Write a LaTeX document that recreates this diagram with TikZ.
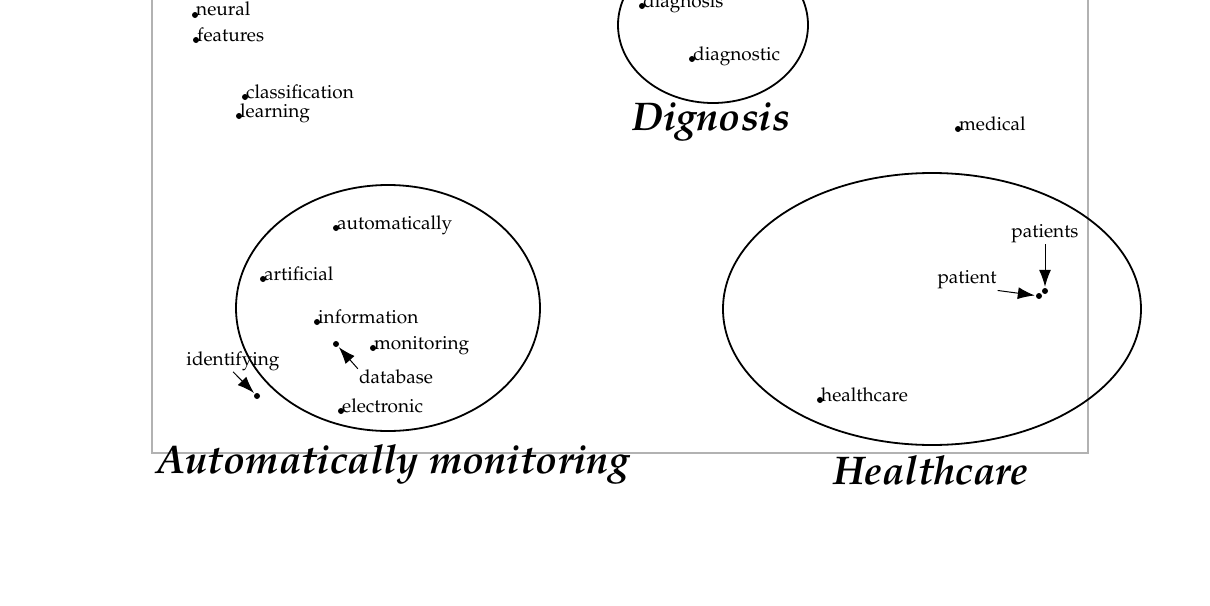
\documentclass[tikz,border=0pt]{standalone}
\usepackage[T1]{fontenc}
\usepackage{mathpazo}
\usetikzlibrary{arrows.meta}

\tikzset{
  dot/.style={circle,fill,inner sep=0pt,minimum size=6pt},
  word/.style={font=\fontsize{19}{19}\selectfont,inner sep=0pt,anchor=base west,xshift=1pt,yshift=-1pt},
  tag/.style={font=\fontsize{19}{19}\selectfont,inner sep=1pt},
  topic/.style={font=\fontsize{40}{40}\selectfont\bfseries\itshape,inner sep=0pt,anchor=base},
  group/.style={draw,line width=1.8pt},
  pointer/.style={-{Latex[length=17pt,width=12pt]},line width=1pt,shorten >=1pt}
}

\begin{document}
\begin{tikzpicture}[x=1pt,y=-1pt]
      \clip (0,0) rectangle (1210,605);
      \draw[gray!60,line width=1.2pt] (152,-10) rectangle (1088,453);
      % clusters
      \draw[group] (713,25) ellipse [x radius=95,y radius=78];
      \draw[group] (388,308) ellipse [x radius=152,y radius=123];
      \draw[group] (932,309) ellipse [x radius=209,y radius=136];
      \node[topic] (dignosis) at (711,130) {Dignosis};
      \node[topic] (automon) at (393,473) {Automatically monitoring};
      \node[topic] (health) at (931,484) {Healthcare};
      % terms
      \node[dot] (neural) at (195,15) {};
      \node[word] at (neural) {neural};
      \node[dot] (features) at (196,40) {};
      \node[word] at (features) {features};
      \node[dot] (classification) at (245,97) {};
      \node[word] at (classification) {classification};
      \node[dot] (learning) at (239,116) {};
      \node[word] at (learning) {learning};
      \node[dot] (diagnosis) at (642,6) {};
      \node[word] at (diagnosis) {diagnosis};
      \node[dot] (diagnostic) at (692,59) {};
      \node[word] at (diagnostic) {diagnostic};
      \node[dot] (medical) at (958,129) {};
      \node[word] at (medical) {medical};
      \node[dot] (automatically) at (336,228) {};
      \node[word] at (automatically) {automatically};
      \node[dot] (artificial) at (263,279) {};
      \node[word] at (artificial) {artificial};
      \node[dot] (information) at (317,322) {};
      \node[word] at (information) {information};
      \node[dot] (monitoring) at (373,348) {};
      \node[word] at (monitoring) {monitoring};
      \node[dot] (electronic) at (341,411) {};
      \node[word] at (electronic) {electronic};
      \node[dot] (healthcare) at (820,400) {};
      \node[word] at (healthcare) {healthcare};
      % points with separate labels
      \node[dot] (database) at (336,344) {};
      \node[tag] (database-lbl) at (396,377) {database};
      \draw[pointer] (database-lbl.north west) -- (database);
      \node[dot] (identifying) at (257,396) {};
      \node[tag] (identifying-lbl) at (233,361) {identifying};
      \draw[pointer] (identifying-lbl.south) -- (identifying);
      \node[dot] (patients) at (1045,291) {};
      \node[tag] (patients-lbl) at (1045,234) {patients};
      \draw[pointer] (patients-lbl) -- (patients);
      \node[dot] (patient) at (1039,296) {};
      \node[tag] (patient-lbl) at (967,280) {patient};
      \draw[pointer] (patient-lbl.south east) -- (patient);
\end{tikzpicture}
\end{document}
